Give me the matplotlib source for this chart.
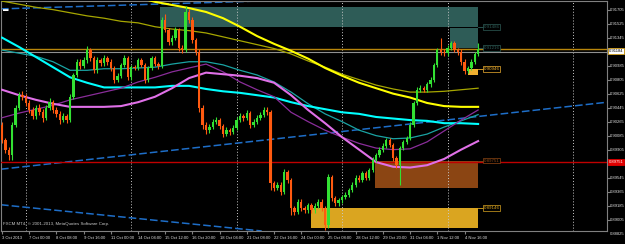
import matplotlib
matplotlib.use("Agg")
import matplotlib.pyplot as plt
from matplotlib.patches import Rectangle

plt.rcParams["font.family"] = ["Liberation Sans", "DejaVu Sans"]

# USDCHF H4 candles, bar 0 = 3 Oct 2013 16:00
opens = [0.9023, 0.9003, 0.8991, 0.8984, 0.9023, 0.9045, 0.9061, 0.9059, 0.9051, 0.9042,
         0.9034, 0.9045, 0.9039, 0.9032, 0.9045, 0.9052, 0.9042, 0.9037, 0.9029, 0.9034,
         0.9029, 0.9059, 0.9087, 0.9104, 0.9099, 0.9106, 0.9119, 0.9109, 0.9093, 0.9106,
         0.9102, 0.9109, 0.9104, 0.9096, 0.9081, 0.9086, 0.9100, 0.9109, 0.9084, 0.9097,
         0.9096, 0.9106, 0.9100, 0.9081, 0.9096, 0.9109, 0.9101, 0.9099, 0.9158, 0.9145,
         0.9129, 0.9135, 0.9145, 0.9122, 0.9119, 0.9168, 0.9158, 0.9132, 0.9117, 0.9045,
         0.9023, 0.9016, 0.9020, 0.9027, 0.9029, 0.9021, 0.9011, 0.9016, 0.9014, 0.9019,
         0.9029, 0.9034, 0.9032, 0.9038, 0.9023, 0.9027, 0.9032, 0.9036, 0.9042, 0.9039,
         0.8948, 0.8942, 0.8946, 0.8937, 0.8962, 0.8952, 0.8916, 0.8911, 0.8924, 0.8916,
         0.8913, 0.8920, 0.8913, 0.8919, 0.8924, 0.8916, 0.8894, 0.8956, 0.8929, 0.8922,
         0.8926, 0.8930, 0.8933, 0.8939, 0.8946, 0.8955, 0.8952, 0.8961, 0.8955, 0.8965,
         0.8978, 0.8984, 0.8991, 0.8996, 0.9003, 0.8997, 0.8980, 0.8971, 0.8993, 0.9001,
         0.9006, 0.9023, 0.9051, 0.9068, 0.9070, 0.9068, 0.9075, 0.9081, 0.9100, 0.9119,
         0.9117, 0.9115, 0.9122, 0.9128, 0.9119, 0.9117, 0.9104, 0.9092, 0.9096, 0.9104,
         0.9114]
highs = [0.9027, 0.9006, 0.8994, 0.9026, 0.9049, 0.9065, 0.9066, 0.9062, 0.9055, 0.9046,
         0.9049, 0.9050, 0.9043, 0.9049, 0.9057, 0.9055, 0.9046, 0.9041, 0.9038, 0.9037,
         0.9062, 0.9090, 0.9108, 0.9107, 0.9110, 0.9124, 0.9122, 0.9112, 0.9110, 0.9109,
         0.9113, 0.9112, 0.9107, 0.9099, 0.9090, 0.9103, 0.9113, 0.9112, 0.9100, 0.9100,
         0.9109, 0.9109, 0.9103, 0.9099, 0.9112, 0.9112, 0.9104, 0.9162, 0.9166, 0.9148,
         0.9139, 0.9149, 0.9148, 0.9125, 0.9176, 0.9172, 0.9161, 0.9135, 0.9120, 0.9048,
         0.9027, 0.9024, 0.9031, 0.9033, 0.9032, 0.9024, 0.9020, 0.9019, 0.9023, 0.9033,
         0.9038, 0.9037, 0.9042, 0.9041, 0.9031, 0.9036, 0.9040, 0.9046, 0.9046, 0.9042,
         0.8951, 0.8950, 0.8949, 0.8966, 0.8965, 0.8955, 0.8919, 0.8927, 0.8927, 0.8919,
         0.8923, 0.8923, 0.8922, 0.8927, 0.8927, 0.8919, 0.8960, 0.8959, 0.8932, 0.8929,
         0.8933, 0.8936, 0.8942, 0.8949, 0.8958, 0.8958, 0.8964, 0.8964, 0.8968, 0.8981,
         0.8987, 0.8994, 0.8999, 0.9006, 0.9006, 0.9000, 0.8983, 0.8996, 0.9004, 0.9009,
         0.9026, 0.9054, 0.9071, 0.9074, 0.9073, 0.9078, 0.9084, 0.9103, 0.9122, 0.9135,
         0.9120, 0.9125, 0.9131, 0.9131, 0.9122, 0.9120, 0.9107, 0.9099, 0.9107, 0.9117,
         0.9128]
lows = [0.8999, 0.8987, 0.8978, 0.8978, 0.9020, 0.9042, 0.9055, 0.9047, 0.9038, 0.9030,
        0.9031, 0.9035, 0.9027, 0.9029, 0.9042, 0.9038, 0.9033, 0.9024, 0.9026, 0.9025,
        0.9026, 0.9056, 0.9084, 0.9095, 0.9096, 0.9103, 0.9105, 0.9089, 0.9090, 0.9098,
        0.9099, 0.9100, 0.9092, 0.9077, 0.9078, 0.9083, 0.9097, 0.9080, 0.9081, 0.9093,
        0.9093, 0.9097, 0.9077, 0.9078, 0.9093, 0.9098, 0.9095, 0.9096, 0.9142, 0.9125,
        0.9126, 0.9132, 0.9118, 0.9115, 0.9116, 0.9154, 0.9128, 0.9113, 0.9040, 0.9018,
        0.9011, 0.9013, 0.9017, 0.9024, 0.9017, 0.9007, 0.9008, 0.9010, 0.9011, 0.9016,
        0.9026, 0.9028, 0.9029, 0.9019, 0.9020, 0.9024, 0.9029, 0.9033, 0.9036, 0.8939,
        0.8938, 0.8939, 0.8933, 0.8934, 0.8948, 0.8907, 0.8907, 0.8908, 0.8912, 0.8909,
        0.8910, 0.8909, 0.8910, 0.8916, 0.8912, 0.8888, 0.8890, 0.8925, 0.8918, 0.8919,
        0.8923, 0.8927, 0.8930, 0.8936, 0.8943, 0.8949, 0.8949, 0.8952, 0.8952, 0.8962,
        0.8975, 0.8981, 0.8988, 0.8993, 0.8994, 0.8977, 0.8967, 0.8946, 0.8990, 0.8998,
        0.9003, 0.9020, 0.9048, 0.9065, 0.9065, 0.9065, 0.9072, 0.9078, 0.9097, 0.9113,
        0.9112, 0.9112, 0.9119, 0.9116, 0.9113, 0.9100, 0.9088, 0.9089, 0.9093, 0.9101,
        0.9111]
closes = [0.9003, 0.8991, 0.8984, 0.9023, 0.9045, 0.9061, 0.9059, 0.9051, 0.9042, 0.9034,
          0.9045, 0.9039, 0.9032, 0.9045, 0.9052, 0.9042, 0.9037, 0.9029, 0.9034, 0.9029,
          0.9059, 0.9087, 0.9104, 0.9099, 0.9106, 0.9119, 0.9109, 0.9093, 0.9106, 0.9102,
          0.9109, 0.9104, 0.9096, 0.9081, 0.9086, 0.9100, 0.9109, 0.9084, 0.9097, 0.9096,
          0.9106, 0.9100, 0.9081, 0.9096, 0.9109, 0.9101, 0.9099, 0.9158, 0.9145, 0.9129,
          0.9135, 0.9145, 0.9122, 0.9119, 0.9168, 0.9158, 0.9132, 0.9117, 0.9045, 0.9023,
          0.9016, 0.9020, 0.9027, 0.9029, 0.9021, 0.9011, 0.9016, 0.9014, 0.9019, 0.9029,
          0.9034, 0.9032, 0.9038, 0.9023, 0.9027, 0.9032, 0.9036, 0.9042, 0.9039, 0.8948,
          0.8942, 0.8946, 0.8937, 0.8962, 0.8952, 0.8916, 0.8911, 0.8924, 0.8916, 0.8913,
          0.8920, 0.8913, 0.8919, 0.8924, 0.8916, 0.8894, 0.8956, 0.8929, 0.8922, 0.8926,
          0.8930, 0.8933, 0.8939, 0.8946, 0.8955, 0.8952, 0.8961, 0.8955, 0.8965, 0.8978,
          0.8984, 0.8991, 0.8996, 0.9003, 0.8997, 0.8980, 0.8971, 0.8993, 0.9001, 0.9006,
          0.9023, 0.9051, 0.9068, 0.9070, 0.9068, 0.9075, 0.9081, 0.9100, 0.9119, 0.9117,
          0.9115, 0.9122, 0.9128, 0.9119, 0.9117, 0.9104, 0.9092, 0.9096, 0.9104, 0.9114,
          0.9120]

# moving averages read every 5 bars
ma_bars = [0, 5, 10, 15, 20, 25, 30, 35, 40, 45, 50, 55, 60, 65, 70,
           75, 80, 85, 90, 95, 100, 105, 110, 115, 120, 125, 130, 135, 140]
ma_yellow = [0.9218, 0.9214, 0.9210, 0.9207, 0.9203, 0.9199, 0.9195, 0.9191, 0.9187, 0.9181,
             0.9177, 0.9173, 0.9168, 0.9160, 0.9149, 0.9137, 0.9127, 0.9118, 0.9108, 0.9096,
             0.9086, 0.9077, 0.9070, 0.9063, 0.9058, 0.9051, 0.9047, 0.9046, 0.9046]
ma_olive = [0.9182, 0.9178, 0.9174, 0.9171, 0.9167, 0.9163, 0.9160, 0.9156, 0.9154, 0.9149,
            0.9146, 0.9144, 0.9141, 0.9136, 0.9131, 0.9126, 0.9121, 0.9114, 0.9105, 0.9097,
            0.9088, 0.9081, 0.9074, 0.9069, 0.9065, 0.9065, 0.9066, 0.9068, 0.9070]
ma_cyan = [0.9135, 0.9123, 0.9110, 0.9097, 0.9084, 0.9077, 0.9071, 0.9071, 0.9071, 0.9071,
           0.9073, 0.9073, 0.9069, 0.9066, 0.9064, 0.9061, 0.9058, 0.9052, 0.9047, 0.9043,
           0.9039, 0.9037, 0.9033, 0.9031, 0.9029, 0.9028, 0.9025, 0.9025, 0.9024]
ma_teal = [0.9119, 0.9115, 0.9111, 0.9104, 0.9093, 0.9093, 0.9095, 0.9095, 0.9096, 0.9097,
           0.9101, 0.9104, 0.9104, 0.9100, 0.9093, 0.9087, 0.9078, 0.9065, 0.9050, 0.9037,
           0.9027, 0.9016, 0.9009, 0.9005, 0.9006, 0.9011, 0.9020, 0.9028, 0.9036]
ma_violet = [0.9068, 0.9061, 0.9055, 0.9050, 0.9046, 0.9046, 0.9046, 0.9047, 0.9052, 0.9059,
             0.9070, 0.9083, 0.9090, 0.9088, 0.9086, 0.9083, 0.9077, 0.9061, 0.9042, 0.9025,
             0.9007, 0.8991, 0.8975, 0.8969, 0.8968, 0.8971, 0.8979, 0.8991, 0.9002]
ma_purple = [0.9032, 0.9038, 0.9043, 0.9048, 0.9055, 0.9060, 0.9065, 0.9070, 0.9078, 0.9084,
             0.9091, 0.9096, 0.9101, 0.9091, 0.9078, 0.9068, 0.9059, 0.9039, 0.9027, 0.9016,
             0.9007, 0.8999, 0.8993, 0.8991, 0.8992, 0.9001, 0.9015, 0.9029, 0.9042]

# trend lines (bar, price) end points
trend_up = ([0, 178], [0.8966, 0.9052])
trend_down = ([0, 100], [0.8920, 0.8876])
trend_top = ([0, 75], [0.9172, 0.9182])

red_level = 0.8975
gold_level = 0.9120
bid_level = 0.9117
week_separators = [7, 38, 69, 100, 131, 168]

# zones: (bar start, bar end, price low, price high, colour, label)
zones = [
    (46.5, 140, 0.9149, 0.9174, "#2e5c57", "0.91486"),
    (131.8, 140, 0.9122, 0.9147, "#2e5c57", "0.91216"),
    (137, 140, 0.9087, 0.9095, "#f0b030", "0.90946"),
    (109.7, 140, 0.8942, 0.8977, "#8b4513", "0.89751"),
    (90.9, 140, 0.8890, 0.8916, "#daa520", "0.89146"),
]

time_bars = [0, 8, 16, 24, 32, 40, 48, 56, 64, 72, 80, 88, 96, 104, 112, 120, 128, 136]
time_labels = ["3 Oct 2013", "7 Oct 00:00", "8 Oct 08:00", "9 Oct 16:00", "11 Oct 00:00",
               "14 Oct 04:00", "15 Oct 12:00", "16 Oct 20:00", "18 Oct 04:00", "21 Oct 08:00",
               "22 Oct 16:00", "24 Oct 00:00", "25 Oct 08:00", "28 Oct 12:00", "29 Oct 20:00",
               "31 Oct 04:00", "1 Nov 12:00", "4 Nov 16:00"]
price_ticks = [0.88825, 0.89005, 0.89185, 0.89365, 0.89545, 0.89905, 0.90085,
               0.90265, 0.90445, 0.90625, 0.90805, 0.90985, 0.91345, 0.91525, 0.91705]
price_labels = ["0.88825", "0.89005", "0.89185", "0.89365", "0.89545", "0.89905",
                "0.90085", "0.90265", "0.90445", "0.90625", "0.90805", "0.90985", "0.91345",
                "0.91525", "0.91705"]

fig = plt.figure(figsize=(6.25, 2.44), dpi=100, facecolor="black")
ax = fig.add_axes([1 / 625, 13 / 244, 606 / 625, 230 / 244])
ax.set_facecolor("black")
for s in ax.spines.values():
    s.set_color("#808080")
    s.set_linewidth(0.8)

# zones behind everything
for x0, x1, lo, hi, col, lab in zones:
    ax.add_patch(Rectangle((x0, lo), x1 - x0, hi - lo, facecolor=col, edgecolor="none", zorder=1))

for b in week_separators:
    ax.axvline(b, color="#c8c8c8", lw=0.7, ls=(0, (1, 2)), zorder=2)

# trend lines
for xs, ys in [trend_up, trend_down, trend_top]:
    ax.axline((xs[0], ys[0]), (xs[1], ys[1]), color="#1e6ec8", lw=1.1, ls=(0, (5, 2)), zorder=2)

ax.axhline(red_level, color="#c00000", lw=1.0, zorder=3)
ax.axhline(gold_level, color="#b8860b", lw=1.0, zorder=3)
ax.axhline(bid_level, color="#909090", lw=0.8, zorder=3)

# moving averages
ax.plot(ma_bars, ma_olive, color="#a6a600", lw=0.9, zorder=4)
ax.plot(ma_bars, ma_yellow, color="#ffff00", lw=1.5, zorder=4)
ax.plot(ma_bars, ma_teal, color="#1aa3a3", lw=0.9, zorder=4)
ax.plot(ma_bars, ma_cyan, color="#00ffff", lw=1.5, zorder=4)
ax.plot(ma_bars, ma_purple, color="#8a2d9a", lw=0.9, zorder=4)
ax.plot(ma_bars, ma_violet, color="#e070e8", lw=1.5, zorder=4)

# candles
bars = list(range(len(closes)))
cols = ["#33e033" if c >= o else "#ff5a10" for o, c in zip(opens, closes)]
ax.vlines(bars, lows, highs, colors=cols, lw=0.8, zorder=5)
bottoms = [min(o, c) for o, c in zip(opens, closes)]
heights = [max(abs(c - o), 0.00005) for o, c in zip(opens, closes)]
ax.bar(bars, heights, bottom=bottoms, width=0.7, color=cols, zorder=6)

# zone labels
for x0, x1, lo, hi, col, lab in zones:
    y = lo if col == "#2e5c57" else hi
    ax.plot([x1, x1 + 1.5], [y, y], color=col, lw=0.6, zorder=3)
    ax.text(x1 + 1.6, y, lab, fontsize=3.2, color=col, va="center", ha="left", zorder=7,
            bbox=dict(facecolor="black", edgecolor=col, lw=0.5, pad=0.6))

ax.set_xlim(-0.3, 177.9)

ax.set_xticks(time_bars)
ax.set_xticklabels(time_labels, fontsize=3.0, color="#e0e0e0")
for lab in ax.get_xticklabels():
    lab.set_ha("left")
ax.tick_params(axis="x", length=2, color="#808080", pad=1.5)

ax.yaxis.tick_right()
ax.set_yticks(price_ticks)
ax.set_yticklabels([])
ax.tick_params(axis="y", length=2, color="#808080")
ax.set_ylim(0.88864, 0.91821)
for v, lab in zip(price_ticks, price_labels):
    ax.text(1.005, v, lab, transform=ax.get_yaxis_transform(), fontsize=3.0, color="#e0e0e0",
            va="center", ha="left", clip_on=False)

ax.text(1.003, bid_level + 0.0001, "0.91184", transform=ax.get_yaxis_transform(), fontsize=3.0,
        color="black", va="center", ha="left", clip_on=False,
        bbox=dict(facecolor="white", edgecolor="#d4a017", lw=0.6, pad=0.5))
ax.text(1.003, red_level, "0.89751", transform=ax.get_yaxis_transform(), fontsize=3.0,
        color="white", va="center", ha="left", clip_on=False,
        bbox=dict(facecolor="#e00000", edgecolor="#e00000", lw=0.6, pad=0.5))

ax.text(0.004, 0.02, "FXCM MT4, \u00a9 2001-2013, MetaQuotes Software Corp.", transform=ax.transAxes,
        fontsize=3.2, color="#c8c8c8", va="bottom", ha="left")
ax.text(0.004, 0.975, "\u25ac", transform=ax.transAxes, fontsize=4, color="white", va="top", ha="left")

fig.savefig("out.png", dpi=100, facecolor="black")
